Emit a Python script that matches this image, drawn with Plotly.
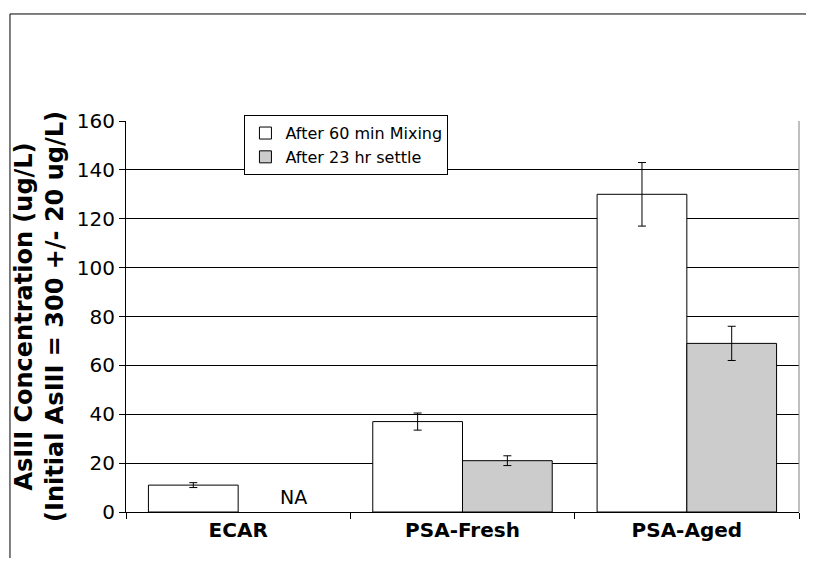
import plotly.graph_objects as go

categories = ["ECAR", "PSA-Fresh", "PSA-Aged"]
mixing_vals = [11, 37, 130]
mixing_err = [1, 3.5, 13]
settle_vals = [None, 21, 69]
settle_err = [None, 2, 7]
y_ticks = [0, 20, 40, 60, 80, 100, 120, 140, 160]

font_family = "DejaVu Sans, Verdana, sans-serif"

fig = go.Figure()
fig.add_trace(go.Bar(
    x=categories, y=mixing_vals, name="After 60 min Mixing",
    marker=dict(color="#ffffff", line=dict(color="#000000", width=1)),
    error_y=dict(type="data", array=mixing_err, color="#000000", thickness=1, width=4),
))
fig.add_trace(go.Bar(
    x=categories, y=settle_vals, name="After 23 hr settle",
    marker=dict(color="#cccccc", line=dict(color="#000000", width=1)),
    error_y=dict(type="data", array=settle_err, color="#000000", thickness=1, width=4),
))

fig.add_annotation(x=categories[0], y=6, text="NA", showarrow=False, xshift=55,
                   font=dict(family=font_family, size=19, color="#000000"))

# outer frame
fig.add_shape(type="rect", xref="paper", yref="paper", x0=-0.1724, x1=1.3, y0=-0.5, y1=1.2737,
              line=dict(color="#000000", width=1), fillcolor="rgba(0,0,0,0)", layer="below")
# right border of plot area
fig.add_shape(type="line", xref="paper", yref="paper", x0=1, x1=1, y0=0, y1=1,
              line=dict(color="#808080", width=1))

fig.update_layout(
    width=806, height=550,
    margin=dict(l=118, r=15, t=113, b=46),
    paper_bgcolor="#ffffff", plot_bgcolor="#ffffff",
    barmode="group", bargap=0.2, bargroupgap=0,
    font=dict(family=font_family, color="#000000"),
    legend=dict(x=0.176, y=1.015, xanchor="left", yanchor="top",
                bgcolor="#ffffff", bordercolor="#000000", borderwidth=1,
                font=dict(size=16, family=font_family), tracegroupgap=0,
                itemwidth=30),
    xaxis=dict(
        showline=True, linecolor="#000000", linewidth=1,
        ticks="outside", ticklen=6, tickcolor="#000000",
        tickson="boundaries",
        tickfont=dict(size=20, family=font_family, weight="bold"),
    ),
    yaxis=dict(
        range=[0, 160], tickvals=y_ticks,
        showgrid=True, gridcolor="#000000", gridwidth=1,
        showline=True, linecolor="#000000", linewidth=1,
        ticks="outside", ticklen=6, tickcolor="#000000",
        tickfont=dict(size=20, family=font_family),
        title=dict(text="<b>AsIII Concentration (ug/L)<br>(Initial AsIII = 300 +/- 20 ug/L)</b>",
                   font=dict(size=24, family=font_family), standoff=6),
    ),
)

fig.write_html("out.html")
